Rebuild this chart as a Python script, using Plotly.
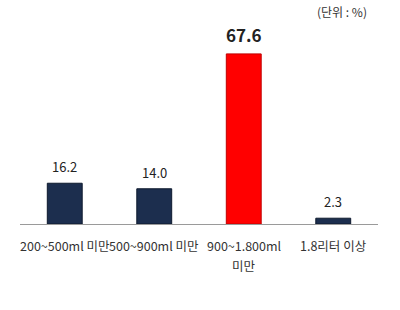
import plotly.graph_objects as go

categories = ["200~500ml 미만", "500~900ml 미만", "900~1.800ml\n미만", "1.8리터 이상"]
values = [16.2, 14.0, 67.6, 2.3]
labels = ["16.2", "14.0", "<b>67.6</b>", "2.3"]
bar_colors = ["#1c2e4e", "#1c2e4e", "#ff0000", "#1c2e4e"]
line_colors = ["#0e1a2e", "#0e1a2e", "#c00000", "#0e1a2e"]
label_sizes = [13, 13, 17, 13]

FONT = "Noto Sans CJK KR"

fig = go.Figure()
xs = list(range(len(categories)))
fig.add_trace(go.Bar(
    x=xs, y=values,
    marker=dict(color=bar_colors, line=dict(color=line_colors, width=1)),
    width=0.39,
))

annotations = []
for i, (v, t, s) in enumerate(zip(values, labels, label_sizes)):
    annotations.append(dict(
        x=i, y=v, xref="x", yref="y", text=t, showarrow=False,
        yanchor="bottom", yshift=5, font=dict(size=s, color="#222", family=FONT),
    ))
for i, cat in enumerate(categories):
    for j, line in enumerate(cat.split("\n")):
        annotations.append(dict(
            x=i, y=0, xref="x", yref="paper", text=line, showarrow=False,
            yanchor="middle", yshift=-21 - 20 * j,
            font=dict(size=12.5, color="#333", family=FONT),
        ))
annotations.append(dict(
    text="(단위 : %)", xref="paper", yref="paper", x=1.0, y=1.0,
    xanchor="right", yanchor="middle", yshift=19, xshift=-9, showarrow=False,
    font=dict(size=12, color="#333", family=FONT),
))

fig.update_layout(
    width=400, height=310,
    margin=dict(l=20, r=22, t=30, b=86),
    plot_bgcolor="white", paper_bgcolor="white",
    showlegend=False,
    font=dict(family=FONT, size=12, color="#333"),
    xaxis=dict(
        range=[-0.5, 3.5], showline=True, linecolor="#9a9a9a", linewidth=1,
        ticks="", showticklabels=False, showgrid=False, zeroline=False,
    ),
    yaxis=dict(range=[0, 77.1], visible=False, showgrid=False, zeroline=False),
    annotations=annotations,
)

fig.write_html("out.html")
